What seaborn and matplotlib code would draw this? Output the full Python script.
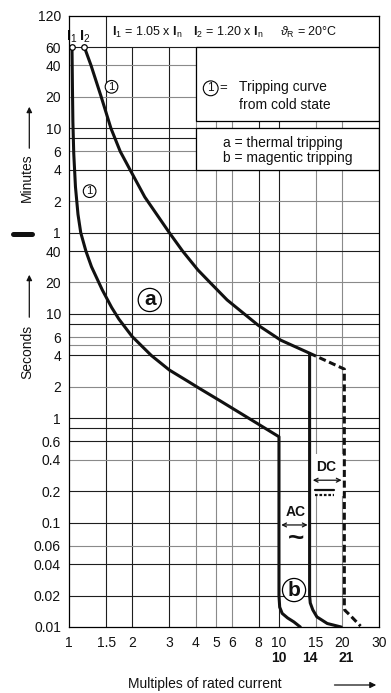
import matplotlib
matplotlib.use("Agg")
import matplotlib.pyplot as plt
from matplotlib.patches import Rectangle, FancyArrowPatch
from matplotlib.lines import Line2D
from matplotlib.ticker import NullLocator
import seaborn as sns

# ── Data ────────────────────────────────────────────────────────────
# time axis in seconds (minutes converted), current in multiples of In
lower_x = [1.03, 1.035, 1.04, 1.05, 1.07, 1.10, 1.134, 1.20, 1.276, 1.436, 1.593,
           1.725, 1.99, 2.46, 3.0, 3.68, 4.11, 5.24, 7.44, 10.0,
           10.0, 10.08, 10.36, 11.0, 11.77, 12.64]
lower_y = [3600, 1500, 700, 345, 165, 90, 60, 40, 28.3, 17.0, 11.5,
           8.9, 6.1, 4.0, 2.9, 2.26, 1.97, 1.47, 0.957, 0.665,
           0.02, 0.0155, 0.0135, 0.0122, 0.0112, 0.01]

upper_x = [1.18, 1.27, 1.42, 1.58, 1.75, 1.95, 2.29, 3.0, 3.47, 4.11, 4.69,
           5.66, 7.95, 10.2, 14.0,
           14.0, 14.1, 14.5, 15.17, 17.0, 19.8]
upper_y = [3600, 2400, 1200, 600, 360, 240, 132, 60, 40, 26.3, 20,
           13.6, 7.8, 5.6, 4.2,
           0.02, 0.017, 0.0146, 0.0125, 0.0108, 0.01]

dc_x = [14.0, 20.5, 20.5, 20.6, 21.8, 24.5]
dc_y = [4.2, 2.96, 0.0156, 0.0145, 0.013, 0.0102]

start_x = [1.03, 1.18]
start_y = [3600, 3600]

xtick_vals = [1, 1.5, 2, 3, 4, 5, 6, 8, 10, 15, 20, 30]
xtick_labels = ["1", "1.5", "2", "3", "4", "5", "6", "8", "10", "15", "20", "30"]
xmark_vals = [10, 14, 21]
xmark_labels = ["10", "14", "21"]

ytick_vals = [7200, 3600, 2400, 1200, 600, 360, 240, 120, 60,
              40, 20, 10, 6, 4, 2, 1, 0.6, 0.4, 0.2, 0.1, 0.06, 0.04, 0.02, 0.01]
ytick_labels = ["120", "60", "40", "20", "10", "6", "4", "2", "1",
                "40", "20", "10", "6", "4", "2", "1", "0.6", "0.4", "0.2",
                "0.1", "0.06", "0.04", "0.02", "0.01"]
ytick_minor = [4800, 480, 8, 5, 0.8]

# ── Style ───────────────────────────────────────────────────────────
sns.set_theme(style="white")
plt.rcParams.update({
    "font.family": ["Liberation Sans", "DejaVu Sans"],
    "mathtext.fontset": "custom",
    "mathtext.rm": "Liberation Sans",
    "mathtext.bf": "Liberation Sans:bold",
    "mathtext.it": "Liberation Sans:italic",
    "axes.edgecolor": "black",
    "axes.linewidth": 0.9,
    "text.color": "#111111",
})

W, H = 391, 693
def fx(px): return px / W
def fy(py): return 1 - py / H

fig = plt.figure(figsize=(W / 100, H / 100), dpi=100)
ax = fig.add_axes([fx(69.3), fy(627), (379 - 69.3) / W, (627 - 15.7) / H])
ax.set_xscale("log")
ax.set_yscale("log")
ax.set_xlim(1, 30)
ax.set_ylim(0.01, 7200)

# grid (drawn by hand: header strip keeps only the 1.5 line)
DARK, LIGHT = "#1e1e1e", "#8a8a8a"
dark_x = [1.5, 2, 3, 8, 10]
for xv in xtick_vals[1:-1]:
    top = 7200 if xv == 1.5 else 3600
    ax.vlines(xv, 0.01, top, color=DARK if xv in dark_x else LIGHT,
              lw=0.8, zorder=1)
light_y = [2400, 1200, 360, 120, 20, 6, 5, 2, 0.4, 0.06]
for yv in ytick_vals[1:-1] + ytick_minor[1:]:
    ax.hlines(yv, 1, 30, color=LIGHT if yv in light_y else DARK,
              lw=0.8, zorder=1)

# white legend boxes
box_kw = dict(facecolor="white", edgecolor="black", lw=0.9, zorder=2)
ax.add_patch(Rectangle((4, 700), 26, 3600 - 700, **box_kw))
ax.add_patch(Rectangle((4, 240), 26, 600 - 240, **box_kw))
ax.add_patch(Rectangle((10.12, 0.055), 13.85 - 10.12, 0.17 - 0.055,
                       facecolor="white", edgecolor="none", zorder=1.5))
ax.add_patch(Rectangle((14.2, 0.18), 20.2 - 14.2, 0.45 - 0.18,
                       facecolor="white", edgecolor="none", zorder=1.5))

# curves
sns.lineplot(x=lower_x, y=lower_y, sort=False, estimator=None, ax=ax,
             color="#111111", lw=2.2, zorder=3)
sns.lineplot(x=upper_x, y=upper_y, sort=False, estimator=None, ax=ax,
             color="#111111", lw=2.2, zorder=3)
sns.lineplot(x=dc_x, y=dc_y, sort=False, estimator=None, ax=ax,
             color="#111111", lw=2.2, zorder=3)
ax.lines[-1].set_dashes([2.3, 1.2])
sns.scatterplot(x=start_x, y=start_y, ax=ax, s=16, color="white",
                edgecolor="black", linewidth=0.9, zorder=4, clip_on=False)

# ticks
ax.set_xticks(xtick_vals)
ax.set_xticklabels(xtick_labels)
ax.set_yticks(ytick_vals)
ax.set_yticklabels(ytick_labels)
ax.xaxis.set_minor_locator(NullLocator())
ax.set_yticks(ytick_minor, minor=True)
ax.tick_params(axis="both", which="both", direction="out", length=4.5,
               width=0.9, color="black", labelsize=10, labelcolor="#111111")
ax.tick_params(axis="x", pad=2)
ax.tick_params(axis="y", pad=1.5)
for sp in ax.spines.values():
    sp.set_visible(True)
    sp.set_zorder(5)

for xv, lab in zip(xmark_vals, xmark_labels):
    ax.text(xv, -0.0507, lab, transform=ax.get_xaxis_transform(),
            ha="center", va="center", fontsize=10, fontweight="bold")

# header line
ax.text(0.137, 0.9725, r"$\mathbf{I}_1$ = 1.05 x $\mathbf{I}_\mathrm{n}$",
        transform=ax.transAxes, ha="left", va="center", fontsize=9)
ax.text(0.398, 0.9725, r"$\mathbf{I}_2$ = 1.20 x $\mathbf{I}_\mathrm{n}$",
        transform=ax.transAxes, ha="left", va="center", fontsize=9)
ax.text(0.680, 0.9725, r"$\vartheta_\mathrm{R}$ = 20°C",
        transform=ax.transAxes, ha="left", va="center", fontsize=9)
for xv, sub in zip(start_x, ["1", "2"]):
    ax.text(xv, 4550, r"$\mathbf{I}_" + sub + "$", ha="center", va="center",
            fontsize=10.5)

# legend box texts
circ = dict(boxstyle="circle,pad=0.12", fc="white", ec="black", lw=0.8)
ax.text(0.4566, 0.8812, "1", transform=ax.transAxes, ha="center",
        va="center", fontsize=8.5, bbox=circ, zorder=6)
ax.text(0.497, 0.8812, "=", transform=ax.transAxes, ha="center",
        va="center", fontsize=9.5, zorder=6)
ax.text(0.549, 0.8826, "Tripping curve", transform=ax.transAxes,
        ha="left", va="center", fontsize=10, zorder=6)
ax.text(0.549, 0.8547, "from cold state", transform=ax.transAxes,
        ha="left", va="center", fontsize=10, zorder=6)
ax.text(0.497, 0.7913, "a = thermal tripping", transform=ax.transAxes,
        ha="left", va="center", fontsize=10, zorder=6)
ax.text(0.497, 0.7667, "b = magentic tripping", transform=ax.transAxes,
        ha="left", va="center", fontsize=10, zorder=6)

# curve markers
ax.text(1.59, 1500, "1", ha="center", va="center", fontsize=8, bbox=circ, zorder=6)
ax.text(1.25, 150, "1", ha="center", va="center", fontsize=8, bbox=circ, zorder=6)
big = dict(boxstyle="circle,pad=0.1", fc="white", ec="black", lw=0.9)
ax.text(2.42, 13.6, "a", ha="center", va="center", fontsize=15,
        fontweight="bold", bbox=big, zorder=6)
ax.text(11.8, 0.0226, "b", ha="center", va="center", fontsize=15,
        fontweight="bold", bbox=big, zorder=6)

# AC / DC
ax.text(12.0, 0.127, "AC", ha="center", va="center", fontsize=10,
        fontweight="bold", zorder=6)
ax.annotate("", xy=(10.25, 0.095), xytext=(13.7, 0.095),
            arrowprops=dict(arrowstyle="<->", lw=0.9, color="#111111",
                            shrinkA=0, shrinkB=0, mutation_scale=7), zorder=6)
ax.text(12.0, 0.069, "~", ha="center", va="center", fontsize=20,
        fontweight="bold", zorder=6)
ax.text(16.7, 0.34, "DC", ha="center", va="center", fontsize=10,
        fontweight="bold", zorder=6)
ax.annotate("", xy=(14.5, 0.255), xytext=(19.9, 0.255),
            arrowprops=dict(arrowstyle="<->", lw=0.9, color="#111111",
                            shrinkA=0, shrinkB=0, mutation_scale=7), zorder=6)
ax.add_line(Line2D([14.9, 18.4], [0.204, 0.204], color="#111111", lw=1.6, zorder=6))
ax.add_line(Line2D([14.9, 18.4], [0.186, 0.186], color="#111111", lw=1.6,
                   dashes=[1.2, 0.8], zorder=6))

# axis titles with arrows
fig.text(fx(205), fy(684), "Multiples of rated current", ha="center",
         va="center", fontsize=10)
fig.add_artist(FancyArrowPatch((fx(331.7), fy(685)), (fx(379), fy(685)),
                               transform=fig.transFigure, arrowstyle="-|>",
                               mutation_scale=9, lw=0.9, color="#111111"))
fig.text(fx(27), fy(178), "Minutes", rotation=90, ha="center", va="center",
         fontsize=10)
fig.add_artist(FancyArrowPatch((fx(29.3), fy(151)), (fx(29.3), fy(104)),
                               transform=fig.transFigure, arrowstyle="-|>",
                               mutation_scale=8, lw=0.9, color="#111111"))
fig.text(fx(27), fy(351.5), "Seconds", rotation=90, ha="center", va="center",
         fontsize=10)
fig.add_artist(FancyArrowPatch((fx(29.3), fy(320)), (fx(29.3), fy(272)),
                               transform=fig.transFigure, arrowstyle="-|>",
                               mutation_scale=8, lw=0.9, color="#111111"))
fig.add_artist(Line2D([fx(13.3), fx(31.7)], [fy(234), fy(234)],
                      transform=fig.transFigure, color="#111111", lw=3.6))

fig.savefig("out.png", dpi=100, facecolor="white")
